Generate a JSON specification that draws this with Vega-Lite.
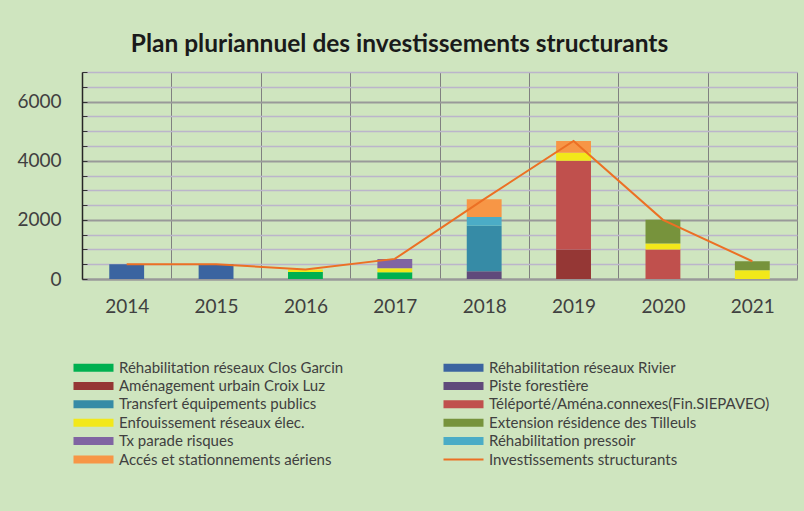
{
  "$schema": "https://vega.github.io/schema/vega-lite/v6.json",
  "autosize": "none",
  "width": 715,
  "height": 207,
  "padding": {"left": 82, "top": 72, "right": 7, "bottom": 232},
  "background": "#CFE5BF",
  "title": {
    "text": "Plan pluriannuel des investissements structurants",
    "font": "Lato",
    "fontSize": 24.5,
    "fontWeight": "bold",
    "color": "#1A1A1A",
    "anchor": "middle",
    "dx": -40,
    "offset": 14
  },
  "config": {
    "font": "Lato",
    "view": {"stroke": null}
  },
  "layer": [
    {
      "data": {
        "values": [
          {"year": "2014", "series": "Réhabilitation réseaux Rivier", "value": 500, "rank": 2},
          {"year": "2015", "series": "Réhabilitation réseaux Rivier", "value": 500, "rank": 2},
          {"year": "2016", "series": "Réhabilitation réseaux Clos Garcin", "value": 240, "rank": 1},
          {"year": "2016", "series": "Enfouissement réseaux élec.", "value": 80, "rank": 7},
          {"year": "2017", "series": "Réhabilitation réseaux Clos Garcin", "value": 230, "rank": 1},
          {"year": "2017", "series": "Enfouissement réseaux élec.", "value": 130, "rank": 7},
          {"year": "2017", "series": "Tx parade risques", "value": 320, "rank": 9},
          {"year": "2018", "series": "Piste forestière", "value": 260, "rank": 4},
          {"year": "2018", "series": "Transfert équipements publics", "value": 1540, "rank": 5},
          {"year": "2018", "series": "Réhabilitation pressoir", "value": 300, "rank": 10},
          {"year": "2018", "series": "Accés et stationnements aériens", "value": 600, "rank": 11},
          {"year": "2019", "series": "Aménagement urbain Croix Luz", "value": 1000, "rank": 3},
          {"year": "2019", "series": "Téléporté/Aména.connexes(Fin.SIEPAVEO)", "value": 3000, "rank": 6},
          {"year": "2019", "series": "Enfouissement réseaux élec.", "value": 270, "rank": 7},
          {"year": "2019", "series": "Accés et stationnements aériens", "value": 400, "rank": 11},
          {"year": "2020", "series": "Téléporté/Aména.connexes(Fin.SIEPAVEO)", "value": 1000, "rank": 6},
          {"year": "2020", "series": "Enfouissement réseaux élec.", "value": 200, "rank": 7},
          {"year": "2020", "series": "Extension résidence des Tilleuls", "value": 800, "rank": 8},
          {"year": "2021", "series": "Enfouissement réseaux élec.", "value": 300, "rank": 7},
          {"year": "2021", "series": "Extension résidence des Tilleuls", "value": 300, "rank": 8}
        ]
      },
      "mark": {"type": "bar", "width": {"band": 0.39}},
      "encoding": {
        "x": {"field": "year", "type": "nominal"},
        "y": {"field": "value", "type": "quantitative", "stack": "zero"},
        "color": {"field": "series", "type": "nominal"},
        "order": {"field": "rank", "type": "quantitative", "sort": "ascending"}
      }
    },
    {
      "data": {
        "values": [
          {"year": "2014", "series": "Investissements structurants", "value": 500},
          {"year": "2015", "series": "Investissements structurants", "value": 500},
          {"year": "2016", "series": "Investissements structurants", "value": 320},
          {"year": "2017", "series": "Investissements structurants", "value": 680},
          {"year": "2018", "series": "Investissements structurants", "value": 2700},
          {"year": "2019", "series": "Investissements structurants", "value": 4670},
          {"year": "2020", "series": "Investissements structurants", "value": 2000},
          {"year": "2021", "series": "Investissements structurants", "value": 600}
        ]
      },
      "mark": {"type": "line", "strokeWidth": 2},
      "encoding": {
        "x": {"field": "year", "type": "nominal"},
        "y": {"field": "value", "type": "quantitative"},
        "color": {"field": "series", "type": "nominal"}
      }
    }
  ],
  "encoding": {
    "x": {
      "field": "year",
      "type": "nominal",
      "scale": {"paddingInner": 0, "paddingOuter": 0},
      "axis": {
        "title": null,
        "labelAngle": 0,
        "labelFont": "Lato",
        "labelFontSize": 19,
        "labelColor": "#404040",
        "labelPadding": 18,
        "ticks": false,
        "grid": true,
        "tickBand": "extent",
        "gridColor": "#808080",
        "gridWidth": 1,
        "domainColor": "#999999",
        "domainWidth": 2
      }
    },
    "y": {
      "type": "quantitative",
      "scale": {"domain": [0, 7000], "nice": false},
      "axis": {
        "title": null,
        "values": [0, 500, 1000, 1500, 2000, 2500, 3000, 3500, 4000, 4500, 5000, 5500, 6000, 6500, 7000],
        "format": "d",
        "labelExpr": "datum.value % 2000 === 0 ? datum.label : ''",
        "labelFont": "Lato",
        "labelFontSize": 19,
        "labelColor": "#404040",
        "tickSize": -5,
        "tickColor": "#333333",
        "labelPadding": 26,
        "grid": true,
        "gridColor": {"condition": {"test": "datum.value % 2000 === 0", "value": "#999999"}, "value": "#BBB5CB"},
        "gridWidth": {"condition": {"test": "datum.value % 2000 === 0", "value": 2}, "value": 1.5},
        "domainColor": "#262626",
        "domainWidth": 1.5
      }
    },
    "color": {
      "field": "series",
      "type": "nominal",
      "scale": {
        "domain": [
          "Réhabilitation réseaux Clos Garcin",
          "Réhabilitation réseaux Rivier",
          "Aménagement urbain Croix Luz",
          "Piste forestière",
          "Transfert équipements publics",
          "Téléporté/Aména.connexes(Fin.SIEPAVEO)",
          "Enfouissement réseaux élec.",
          "Extension résidence des Tilleuls",
          "Tx parade risques",
          "Réhabilitation pressoir",
          "Accés et stationnements aériens",
          "Investissements structurants"
        ],
        "range": ["#00B050", "#3B64A0", "#953735", "#604A7B", "#368BA6", "#C0504D", "#F2E81A", "#77933C", "#8064A2", "#4BACC6", "#F79646", "#EC7024"]
      },
      "legend": {
        "title": null,
        "orient": "none",
        "direction": "horizontal",
        "legendX": -12,
        "legendY": 288,
        "columns": 2,
        "columnPadding": 96,
        "rowPadding": 2.4,
        "labelFont": "Lato",
        "labelFontSize": 15,
        "labelColor": "#404040",
        "labelOffset": 34,
        "labelLimit": 400,
        "symbolSize": 64,
        "symbolStrokeWidth": 0,
        "symbolType": "M-1,-1L9,-1L9,1L-1,1Z",
        "encode": {
          "symbols": {
            "update": {
              "shape": {"signal": "datum.value === 'Investissements structurants' ? 'M-1,-0.25L9,-0.25L9,0.25L-1,0.25Z' : 'M-1,-1L9,-1L9,1L-1,1Z'"},
              "fill": {"signal": "scale('color', datum.value)"},
              "strokeWidth": {"value": 0},
              "opacity": {"value": 1}
            }
          }
        }
      }
    }
  }
}
